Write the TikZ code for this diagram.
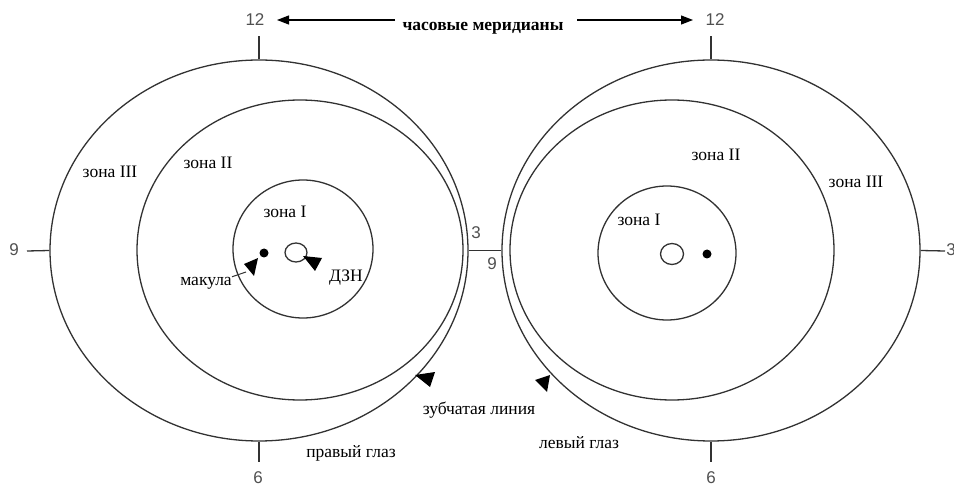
\documentclass[tikz,border=0pt]{standalone}
\usepackage{fontspec}
\setmainfont{Liberation Serif}
\newfontfamily\numfont{Liberation Sans}
\usetikzlibrary{shapes.geometric,arrows.meta}
\definecolor{linec}{RGB}{50,50,50}
\definecolor{numc}{RGB}{80,80,80}
\begin{document}
\begin{tikzpicture}[x=1pt,y=-1pt,
  eye/.style={draw=linec, line width=1.3pt, ellipse, inner sep=0pt},
  dotnode/.style={circle, fill=black, inner sep=0pt, minimum size=9pt},
  zlab/.style={font=\fontsize{17.5}{17.5}\selectfont, inner sep=0pt},
  num/.style={font=\numfont\fontsize{17}{17}\selectfont, text=numc, inner sep=0pt},
  tickline/.style={draw=linec, line width=1.3pt},
  tri/.style={fill=black},
  meridarrow/.style={draw=black, line width=1.2pt, -{Triangle[length=12pt,width=9pt]}}
]
\useasboundingbox (0,0) rectangle (954,489);
% right eye (left in picture)
\node[eye, minimum width=418pt, minimum height=381pt] (Lo) at (259,250.5) {};
\node[eye, minimum width=326pt, minimum height=300pt] (Lm) at (300,250) {};
\node[eye, minimum width=140pt, minimum height=138pt] (Li) at (303,249) {};
\node[eye, minimum width=22pt, minimum height=19pt] (Ld) at (296,252.5) {};
\node[dotnode] (Lmac) at (264,253) {};
% left eye (right in picture)
\node[eye, minimum width=418pt, minimum height=381pt] (Ro) at (711,250.5) {};
\node[eye, minimum width=324pt, minimum height=300pt] (Rm) at (672,250) {};
\node[eye, minimum width=138pt, minimum height=134pt] (Ri) at (667,253) {};
\node[eye, minimum width=23pt, minimum height=21pt] (Rd) at (672,254) {};
\node[dotnode] (Rmac) at (707,254) {};
% clock labels
\node[num] (L12) at (255,20) {12};
\node[num] (R12) at (715,20) {12};
\node[num] (L6) at (258,478) {6};
\node[num] (R6) at (711,478) {6};
\node[num] (L9) at (14,250) {9};
\node[num] (R3) at (951,250) {3};
\node[num] (M3) at (476,233) {3};
\node[num] (M9) at (492,264) {9};
\coordinate (L12t) at (259,36);
\coordinate (R12t) at (711,36);
\coordinate (L6t) at (259,462);
\coordinate (R6t) at (711,462);
\coordinate (L9t) at (27,251);
\coordinate (R3t) at (945,251);
\draw[tickline] (Lo.north) -- (L12t);
\draw[tickline] (Ro.north) -- (R12t);
\draw[tickline] (Lo.south) -- (L6t);
\draw[tickline] (Ro.south) -- (R6t);
\draw[tickline] (Lo.west) -- (L9t);
\draw[tickline] (Ro.east) -- (R3t);
\draw[tickline] (Lo.east) -- (Ro.west);
% title and meridian arrows
\node[font=\bfseries\fontsize{17.5}{17.5}\selectfont, inner sep=0pt] (title) at (483,28) {часовые меридианы};
\coordinate (aLs) at (395,20);
\coordinate (aLe) at (277,20);
\coordinate (aRs) at (577,20);
\coordinate (aRe) at (693,20);
\draw[meridarrow] (aLs) -- (aLe);
\draw[meridarrow] (aRs) -- (aRe);
% zone labels
\node[zlab] (zL3) at (110,172) {зона III};
\node[zlab] (zL2) at (208,163) {зона II};
\node[zlab] (zL1) at (285,212) {зона I};
\node[zlab] (zR1) at (639,220) {зона I};
\node[zlab] (zR2) at (716,155) {зона II};
\node[zlab] (zR3) at (856,182) {зона III};
% other labels
\node[zlab] (mac) at (206,283) {макула};
\node[zlab] (dzn) at (346,278) {ДЗН};
\node[zlab] (zub) at (479,410) {зубчатая линия};
\node[zlab] (pg) at (351,453) {правый глаз};
\node[zlab] (lg) at (579,443) {левый глаз};
% pointers
\coordinate (macend) at (246,272);
\draw[linec, line width=1pt] (mac.north east) -- (macend);
\fill[tri] (244,264) -- (258,258) -- (254,276) -- cycle;
\fill[tri] (303,256) -- (322,258) -- (315,271) -- cycle;
\fill[tri] (415,375) -- (435,372) -- (430,387) -- cycle;
\fill[tri] (535,380) -- (550,375) -- (547,392) -- cycle;
\end{tikzpicture}
\end{document}
